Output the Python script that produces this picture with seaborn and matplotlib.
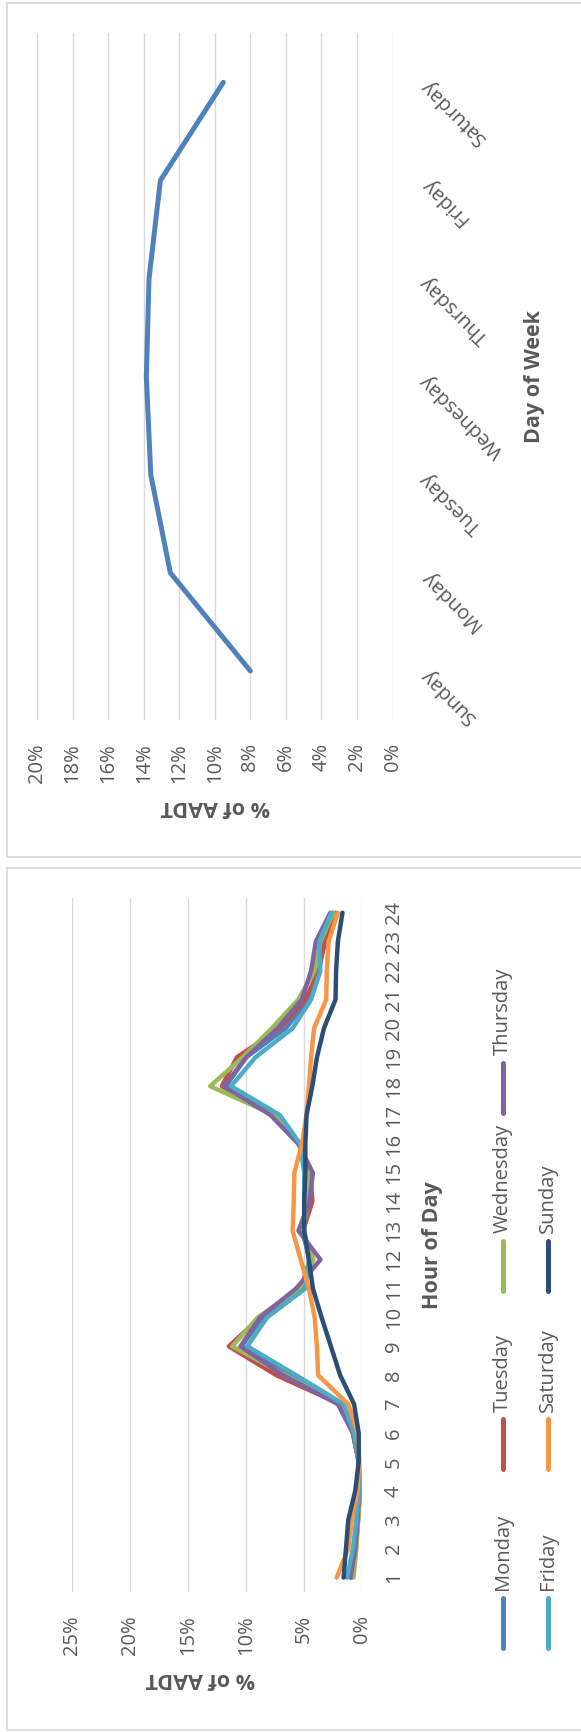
import matplotlib
matplotlib.use("Agg")
import matplotlib.pyplot as plt
from matplotlib.lines import Line2D
from matplotlib.patches import Rectangle
import pandas as pd
import seaborn as sns

# ---- data -------------------------------------------------------------
days = ["Sunday", "Monday", "Tuesday", "Wednesday", "Thursday", "Friday", "Saturday"]
day_share = [8.0, 12.5, 13.6, 13.85, 13.7, 13.06, 9.52]          # % of AADT by day

hours = list(range(1, 25))
monday    = [1.0, 0.6, 0.4, 0.25, 0.3, 0.8, 2.0, 6.2, 10.4, 8.6, 5.2, 4.5,
             5.2, 4.7, 4.6, 5.4, 7.4, 11.75, 10.0, 6.6, 4.6, 3.7, 3.4, 2.5]
tuesday   = [0.9, 0.55, 0.35, 0.2, 0.3, 0.75, 1.9, 7.4, 11.5, 8.8, 5.3, 4.5,
             5.1, 4.3, 4.45, 5.4, 7.7, 12.1, 10.8, 7.1, 4.9, 3.75, 3.2, 2.3]
wednesday = [0.75, 0.5, 0.35, 0.2, 0.3, 0.8, 2.0, 6.6, 11.2, 9.0, 5.4, 4.2,
             5.1, 4.7, 4.7, 5.4, 7.6, 13.1, 10.3, 7.8, 5.5, 4.1, 3.6, 2.5]
thursday  = [1.0, 0.6, 0.4, 0.25, 0.3, 0.8, 2.1, 6.8, 10.5, 8.8, 5.7, 3.6,
             5.5, 4.55, 4.25, 5.5, 7.9, 11.9, 10.0, 7.3, 5.2, 4.4, 4.0, 2.75]
friday    = [1.3, 0.8, 0.5, 0.3, 0.3, 0.7, 1.6, 5.7, 9.9, 8.2, 4.9, 4.6,
             5.0, 5.0, 5.0, 5.35, 7.1, 11.3, 9.2, 6.0, 4.4, 3.6, 3.7, 2.65]
saturday  = [2.2, 1.2, 0.9, 0.4, 0.25, 0.4, 1.2, 3.8, 3.9, 4.1, 4.6, 5.3,
             6.0, 5.9, 5.85, 5.2, 4.8, 4.6, 4.4, 4.15, 3.1, 3.05, 2.9, 2.1]
sunday    = [1.6, 1.4, 1.2, 0.6, 0.3, 0.3, 0.7, 1.9, 2.7, 3.5, 4.25, 4.6,
             5.0, 5.0, 4.9, 4.9, 4.8, 4.3, 3.9, 3.3, 2.3, 2.25, 2.1, 1.7]

series_names = ["Monday", "Tuesday", "Wednesday", "Thursday", "Friday", "Saturday", "Sunday"]
series_values = [monday, tuesday, wednesday, thursday, friday, saturday, sunday]
series_colors = ["#4F81BD", "#C0504D", "#9BBB59", "#8064A2", "#4BACC6", "#F79646", "#2C4D75"]

top_ticks = list(range(0, 21, 2))
bottom_ticks = list(range(0, 26, 5))

# ---- style ------------------------------------------------------------
sns.set_theme(style="white")
plt.rcParams["font.family"] = ["Open Sans", "DejaVu Sans"]
TXT = "#595959"
GRID = "#D9D9D9"
FS = 14.5
FS_TITLE = 15.5

W, H = 581, 1732
fig = plt.figure(figsize=(W / 100, H / 100), dpi=100)


def fx(px):
    return px / W


def fy(py):
    return 1 - py / H


def axes_box(x0, y0, x1, y1):
    return [fx(x0), fy(y1), (x1 - x0) / W, (y1 - y0) / H]


# panel frames
for (y0, y1) in [(3.3, 857.3), (867.7, 1730)]:
    fig.add_artist(Rectangle((fx(7), fy(y1)), fx(640) - fx(7), (y1 - y0) / H,
                             transform=fig.transFigure, fill=False,
                             edgecolor=GRID, lw=1.3))


def style_axes(ax):
    for s in ax.spines.values():
        s.set_visible(False)
    ax.grid(axis="x", color=GRID, lw=1.0)
    ax.grid(axis="y", visible=False)
    ax.set_axisbelow(True)


# ---- day of week chart ------------------------------------------------
ax_top = fig.add_axes(axes_box(37, 33.3, 392.6, 720))
day_df = pd.DataFrame({"day": days, "pos": range(len(days)), "share": day_share})
sns.lineplot(data=day_df, x="share", y="pos", orient="y", estimator=None,
             color="#4F81BD", lw=3.6, ax=ax_top)
ax_top.set_xlim(20, 0)
ax_top.set_ylim(-0.5, len(days) - 0.5)
ax_top.set_xticks(top_ticks)
ax_top.set_xticklabels([f"{t}%" for t in top_ticks], rotation=90,
                       fontsize=FS, color=TXT)
ax_top.yaxis.tick_right()
ax_top.set_yticks(range(len(days)))
ax_top.set_yticklabels(days, fontsize=FS, color=TXT)
for lab in ax_top.get_yticklabels():
    lab.set_rotation(135)
    lab.set_rotation_mode("anchor")
    lab.set_ha("right")
    lab.set_va("center")
ax_top.tick_params(axis="x", length=0, pad=16.5)
ax_top.tick_params(axis="y", length=0, pad=22.5)
style_axes(ax_top)
ax_top.set_xlabel("% of AADT", rotation=180, fontsize=FS_TITLE,
                  fontweight="bold", color=TXT, va="center", ha="center")
ax_top.xaxis.set_label_coords(0.5, -0.1263)
ax_top.yaxis.set_label_position("right")
ax_top.set_ylabel("Day of Week", rotation=90, fontsize=FS_TITLE,
                  fontweight="bold", color=TXT, va="center", ha="center")
ax_top.yaxis.set_label_coords(1.4004, 0.5)

# ---- hour of day chart ------------------------------------------------
ax_bot = fig.add_axes(axes_box(72.2, 898.3, 362.2, 1592))
hour_df = pd.DataFrame({
    "hour": hours * len(series_names),
    "day": [n for n in series_names for _ in hours],
    "share": [v for vals in series_values for v in vals],
})
sns.lineplot(data=hour_df, x="share", y="hour", hue="day", hue_order=series_names,
             palette=series_colors, orient="y", estimator=None, lw=3.2,
             legend=False, ax=ax_bot)
ax_bot.set_xlim(25, 0)
ax_bot.set_ylim(0.5, 24.5)
ax_bot.set_xticks(bottom_ticks)
ax_bot.set_xticklabels([f"{t}%" for t in bottom_ticks], rotation=90,
                       fontsize=FS, color=TXT)
ax_bot.yaxis.tick_right()
ax_bot.set_yticks(hours)
ax_bot.set_yticklabels([str(h) for h in hours], rotation=90, fontsize=FS,
                       color=TXT, va="center")
ax_bot.tick_params(axis="x", length=0, pad=16.5)
ax_bot.tick_params(axis="y", length=0, pad=15.5)
style_axes(ax_bot)
ax_bot.set_xlabel("% of AADT", rotation=180, fontsize=FS_TITLE,
                  fontweight="bold", color=TXT, va="center", ha="center")
ax_bot.xaxis.set_label_coords(0.4407, -0.124)
ax_bot.yaxis.set_label_position("right")
ax_bot.set_ylabel("Hour of Day", rotation=90, fontsize=FS_TITLE,
                  fontweight="bold", color=TXT, va="center", ha="center")
ax_bot.yaxis.set_label_coords(1.2441, 0.5)

# legend, laid out in two columns of rotated entries
legend_x = [502.7, 547.7]
legend_slots = [1650, 1471.7, 1293.3, 1115]
for i, (name, color) in enumerate(zip(series_names, series_colors)):
    col, slot = divmod(i, 4)
    x = legend_x[col]
    yb = legend_slots[slot]
    fig.add_artist(Line2D([fx(x), fx(x)], [fy(yb - 2.5), fy(yb - 52.5)],
                          transform=fig.transFigure, color=color, lw=3.6,
                          solid_capstyle="round"))
    fig.text(fx(x), fy(yb - 60), name, rotation=90, ha="center", va="bottom",
             fontsize=FS, color=TXT)

fig.savefig("out.png", dpi=100)
